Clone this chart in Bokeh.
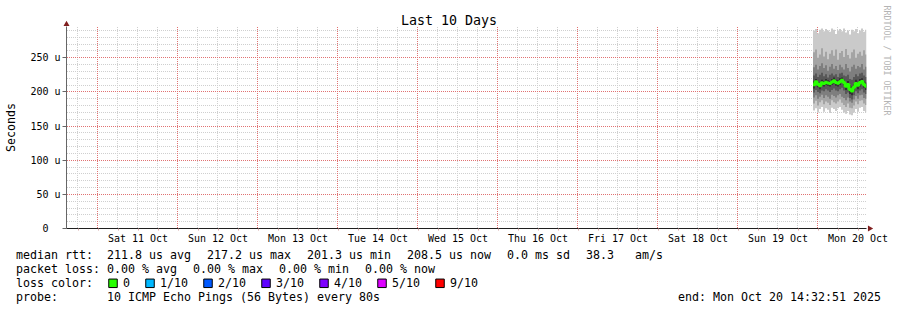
import math
import pandas as pd
from bokeh.plotting import figure
from bokeh.models import Range1d, FixedTicker, GridBox
from bokeh.core.properties import value
from bokeh.embed import file_html
from bokeh.resources import INLINE

# ---------------- data ----------------
end_time = pd.Timestamp("2025-10-20 14:32:51")
start_time = end_time - pd.Timedelta(days=10)
data_start = pd.Timestamp("2025-10-19 22:30:00")
data_step = pd.Timedelta(minutes=36)

title_text = "Last 10 Days"
watermark_text = "RRDTOOL / TOBI OETIKER"
day_labels = ["Sat 11 Oct", "Sun 12 Oct", "Mon 13 Oct", "Tue 14 Oct", "Wed 15 Oct",
              "Thu 16 Oct", "Fri 17 Oct", "Sat 18 Oct", "Sun 19 Oct", "Mon 20 Oct"]
y_ticks = [0, 50, 100, 150, 200, 250]
y_tick_labels = ["0\u00a0\u00a0", "50 u", "100 u", "150 u", "200 u", "250 u"]

# sorted ping rtts (microseconds), lowest (p1) to highest (p10)
p1 = [173, 176, 170, 175, 178, 171, 176, 174, 169, 177, 175, 172, 176, 178, 174, 170, 168, 172, 167, 166, 170, 175, 171, 177, 178, 172, 170]
p2 = [183, 187, 180, 185, 188, 182, 186, 184, 181, 188, 185, 183, 186, 189, 184, 181, 178, 183, 177, 176, 180, 186, 182, 187, 188, 183, 181]
p3 = [192, 195, 190, 193, 196, 191, 195, 193, 190, 196, 194, 192, 195, 197, 193, 191, 188, 192, 186, 184, 189, 194, 190, 195, 196, 191, 190]
p4 = [199, 203, 200, 198, 202, 201, 204, 202, 200, 203, 205, 202, 201, 204, 206, 202, 197, 199, 191, 189, 195, 201, 198, 202, 204, 199, 197]
p5 = [205, 210, 207, 204, 209, 208, 210, 209, 208, 210, 212, 209, 208, 210, 213, 209, 203, 206, 197, 195, 201, 207, 204, 208, 211, 206, 203]
p6 = [216, 219, 215, 214, 218, 216, 219, 217, 216, 219, 221, 218, 217, 220, 221, 218, 213, 216, 210, 208, 212, 218, 215, 219, 220, 216, 214]
p7 = [224, 227, 222, 225, 228, 223, 226, 221, 225, 227, 224, 226, 222, 227, 228, 224, 223, 225, 219, 218, 222, 226, 223, 227, 228, 224, 222]
p8 = [236, 240, 233, 238, 242, 235, 239, 231, 237, 241, 234, 238, 232, 240, 236, 233, 241, 235, 230, 237, 240, 234, 238, 236, 241, 233, 237]
p9 = [258, 262, 250, 255, 264, 252, 259, 248, 256, 261, 253, 262, 247, 257, 260, 251, 263, 254, 249, 258, 262, 250, 256, 259, 253, 261, 255]
p10 = [290, 292, 286, 291, 293, 289, 292, 290, 288, 293, 291, 285, 290, 292, 289, 293, 287, 290, 284, 291, 289, 292, 286, 290, 293, 288, 291]
median_us = [210.5, 214.8, 211.2, 208.9, 213.6, 212.4, 214.1, 213.0, 212.2, 214.6, 216.3, 213.8, 212.9,
             215.1, 217.2, 213.7, 208.2, 210.9, 203.6, 201.3, 206.8, 212.5, 209.7, 213.9, 215.4, 211.0, 208.5]

rtt_avg, rtt_max, rtt_min, rtt_now = 211.8, 217.2, 201.3, 208.5
rtt_sd_ms = 0.0
rtt_ams = 38.3
loss_avg, loss_max, loss_min, loss_now = 0.00, 0.00, 0.00, 0.00
loss_labels = ["0", "1/10", "2/10", "3/10", "4/10", "5/10", "9/10"]
loss_colors = ["#26ff00", "#00b8ff", "#0059ff", "#5e00ff", "#7e00ff", "#dd00ff", "#ff0000"]
probe_text = "10 ICMP Echo Pings (56 Bytes) every 80s"
smoke_colors = ["#cacaca", "#a4a4a4", "#7e7e7e", "#585858", "#323232"]

# ---------------- geometry ----------------
MONO = "DejaVu Sans Mono"
NB = "\u00a0"
W, H = 897, 310
FRAME_L, FRAME_R, FRAME_T, FRAME_B = 66, 866, 26, 228
GRID_R = 868
Y_PER_PX = 250.0 / (228 - 57.3)
Y_TOP = (FRAME_B - FRAME_T) * Y_PER_PX
ARROW_C = "#801f1f"
GRID_MINOR = "#cfcfcf"
GRID_MAJOR = "#e07272"

def ms(ts):
    return ts.value / 1e6

X0, X1 = ms(start_time), ms(end_time)
MS_PER_PX = (X1 - X0) / (FRAME_R - FRAME_L)

def px_x(px):
    return X0 + (px - FRAME_L) * MS_PER_PX

def px_y(py):
    return (FRAME_B - py) * Y_PER_PX

def to_px_x(v):
    return FRAME_L + (v - X0) / MS_PER_PX

def to_px_y(v):
    return FRAME_B - v / Y_PER_PX

n = len(median_us)
t = [ms(data_start + i * data_step) for i in range(n + 1)]
t[-1] = min(t[-1], X1)

def ext(a):
    return list(a) + [a[-1]]

midnights = [ms(pd.Timestamp("2025-10-11") + pd.Timedelta(days=i)) for i in range(10)]
noons = [m + 12 * 3600e3 for m in midnights]
six_hours = []
tt = pd.Timestamp("2025-10-10 18:00")
while tt <= end_time:
    if tt.hour != 0:
        six_hours.append(ms(tt))
    tt += pd.Timedelta(hours=6)
y_minor = [v for v in range(10, 300, 10) if v % 50 and v < Y_TOP]
y_major = [v for v in y_ticks if v > 0]

# ---------------- main figure (axes, grid, smoke) ----------------
p = figure(width=W, height=H, output_backend="svg", toolbar_location=None, title=None,
           x_range=Range1d(X0, X1), y_range=Range1d(0, Y_TOP),
           min_border_left=FRAME_L, min_border_right=W - FRAME_R,
           min_border_top=FRAME_T, min_border_bottom=H - FRAME_B)
p.frame_align = False
p.outline_line_color = None
p.background_fill_color = "white"
p.border_fill_color = "white"
p.xgrid.visible = False
p.ygrid.visible = False

# dotted grid placed on whole pixels so the dots stay crisp
def vlines(times, color):
    xs = [px_x(math.floor(to_px_x(v))) for v in times]
    p.segment(x0=xs, y0=[px_y(FRAME_B - 0.5)] * len(xs), x1=xs, y1=[px_y(FRAME_T - 0.5)] * len(xs),
              line_color=color, line_width=1, line_dash="1 1")

def hlines(vals, color):
    ys = [px_y(round(to_px_y(v))) for v in vals]
    p.segment(x0=[px_x(FRAME_L + 0.5)] * len(ys), y0=ys, x1=[px_x(GRID_R + 0.5)] * len(ys), y1=ys,
              line_color=color, line_width=1, line_dash="1 1")

vlines(six_hours, GRID_MINOR)
hlines(y_minor, GRID_MINOR)
vlines(midnights, GRID_MAJOR)
hlines(y_major, GRID_MAJOR)

# axes
p.xaxis.ticker = FixedTicker(ticks=noons, minor_ticks=six_hours + midnights)
p.xaxis.major_label_overrides = {int(v): lab for v, lab in zip(noons, day_labels)}
p.xaxis.major_tick_out = 0
p.xaxis.major_tick_in = 0
p.xaxis.minor_tick_out = 2
p.xaxis.minor_tick_in = 0
p.xaxis.minor_tick_line_color = "#d8a8a8"
p.xaxis.major_label_standoff = 2
p.xaxis.axis_line_color = "#1f1f1f"

p.yaxis.ticker = FixedTicker(ticks=y_ticks)
p.yaxis.major_label_overrides = {v: lab for v, lab in zip(y_ticks, y_tick_labels)}
p.yaxis.major_tick_out = 4
p.yaxis.major_tick_in = 0
p.yaxis.minor_tick_out = 0
p.yaxis.minor_tick_in = 0
p.yaxis.major_label_standoff = 2
p.yaxis.axis_line_color = "#666666"
p.yaxis.major_tick_line_color = "#666666"
p.yaxis.axis_label = "Seconds"
p.yaxis.axis_label_text_font = MONO
p.yaxis.axis_label_text_font_size = "11.63px"
p.yaxis.axis_label_text_font_style = "normal"
p.yaxis.axis_label_text_color = "black"
p.yaxis.axis_label_standoff = 9

for ax in (p.xaxis, p.yaxis):
    ax.major_label_text_font = MONO
    ax.major_label_text_font_size = "10px"
    ax.major_label_text_color = "black"

# smoke and median
pings = [p1, p2, p3, p4, p5, p6, p7, p8, p9, p10]
for i in range(5):
    p.varea_step(x=t, y1=ext(pings[i]), y2=ext(pings[9 - i]), step_mode="after",
                 fill_color=smoke_colors[i])
p.step(x=t, y=ext(median_us), mode="after", line_color=loss_colors[0], line_width=3)

# ---------------- overlay (title, watermark, arrows, legend) in pixel space ----------------
ov = figure(width=W, height=H, output_backend="svg", toolbar_location=None, title=None,
            x_range=Range1d(0, W), y_range=Range1d(H, 0),
            x_axis_location=None, y_axis_location=None, min_border=0)
ov.frame_align = False
ov.grid.visible = False
ov.outline_line_color = None
ov.background_fill_color = None
ov.border_fill_color = None

ov.text(x=[448.5], y=[19.5], text=[title_text], text_font=value(MONO),
        text_font_size="13.3px", text_align="center", text_baseline="middle", text_color="black")
ov.text(x=[886], y=[60], text=[watermark_text], text_font=value(MONO),
        text_font_size="8.3px", text_align="center", text_baseline="middle",
        angle=-math.pi / 2, text_color="#b4b4b4")

# axis arrows
ov.scatter(x=[FRAME_L], y=[23.8], marker="triangle", size=6, fill_color=ARROW_C, line_color=None)
ov.scatter(x=[869.2], y=[FRAME_B], marker="triangle", size=6, angle=-math.pi / 2,
           fill_color=ARROW_C, line_color=None)

# legend
ADV = 7.0
GAP = 16
COL1 = 106.5
ROWS = [254, 268, 282, 296]

def flow(items, x0):
    xs = []
    x = x0
    for s in items:
        xs.append(x)
        x += ADV * len(s) + GAP
    return xs

row1 = [f"{rtt_avg:.1f} us avg", f"{rtt_max:.1f} us max", f"{rtt_min:.1f} us min",
        f"{rtt_now:.1f} us now", f"{rtt_sd_ms:.1f} ms sd", f"{rtt_ams:.1f}{NB*3}am/s"]
row2 = [f"{loss_avg:.2f} % avg", f"{loss_max:.2f} % max", f"{loss_min:.2f} % min",
        f"{loss_now:.2f} % now"]
row4_end = "end: " + end_time.strftime("%a %b %d %H:%M:%S %Y")

texts, xs, ys = [], [], []
for lab, y in zip(["median rtt:", "packet loss:", "loss color:", "probe:"], ROWS):
    texts.append(lab); xs.append(15.5); ys.append(y)
for s, x in zip(row1, flow(row1, COL1)):
    texts.append(s); xs.append(x); ys.append(ROWS[0])
for s, x in zip(row2, flow(row2, COL1)):
    texts.append(s); xs.append(x); ys.append(ROWS[1])
loss_x = []
x = 122.5
for s in loss_labels:
    loss_x.append(x)
    texts.append(s); xs.append(x); ys.append(ROWS[2])
    x += ADV * len(s) + 30
texts.append(probe_text); xs.append(COL1); ys.append(ROWS[3])
texts.append(row4_end); xs.append(677.5); ys.append(ROWS[3])

ov.text(x=xs, y=ys, text=texts, text_font=value(MONO), text_font_size="11.63px",
        text_baseline="middle", text_align="left", text_color="black")
ov.rect(x=[v - 10 for v in loss_x], y=[ROWS[2] + 0.8] * len(loss_x), width=8.5, height=8.5,
        fill_color=loss_colors, line_color="black", line_width=1)

layout = GridBox(children=[(p, 0, 0), (ov, 0, 0)])
open("out.html", "w").write(file_html(layout, INLINE))
